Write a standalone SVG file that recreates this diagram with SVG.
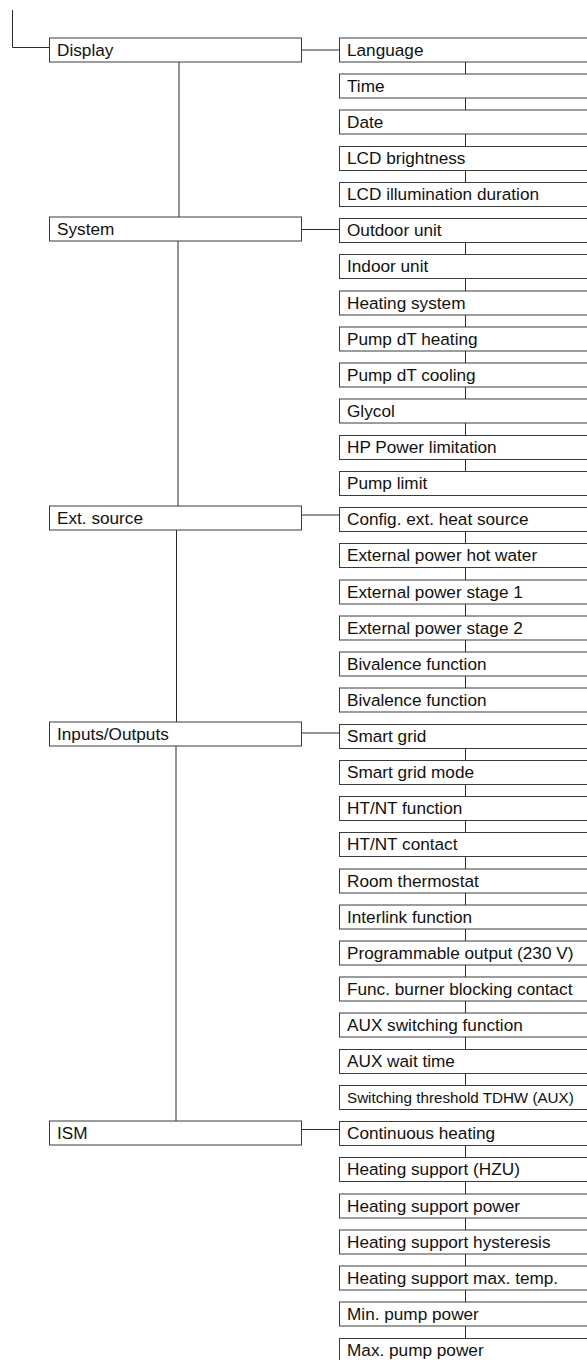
<svg xmlns="http://www.w3.org/2000/svg" width="587" height="1360" viewBox="0 0 587 1360">
  <style>
    .box { fill: #ffffff; stroke: #3a3a3a; stroke-width: 1; }
    .lbl { font-family: "Liberation Sans", Arial, sans-serif; font-size: 17.2px; fill: #111111; }
    .sm { font-size: 15.2px; }
    .wire { fill: none; stroke: #2a2a2a; stroke-width: 1; }
  </style>
  <rect width="587" height="1360" fill="#ffffff"/>

  <!-- connectors -->
  <g id="connectors" class="wire">
    <!-- root entry -->
    <path d="M12.5 10 V47.5 H49.5"/>
    <!-- main spine between category boxes -->
    <line x1="179" y1="62" x2="179" y2="217"/>
    <line x1="178" y1="241" x2="178" y2="506"/>
    <line x1="176.5" y1="530" x2="176.5" y2="722"/>
    <line x1="176" y1="746" x2="176" y2="1121"/>
    <!-- category to first parameter -->
    <line x1="301.5" y1="50" x2="339.5" y2="50"/>
    <line x1="301.5" y1="229.5" x2="339.5" y2="229.5"/>
    <line x1="301.5" y1="515" x2="339.5" y2="515"/>
    <line x1="301.5" y1="733" x2="339.5" y2="733"/>
    <line x1="301.5" y1="1129.5" x2="339.5" y2="1129.5"/>
    <!-- parameter chains -->
    <path d="M465.5 62 V74 M465.5 98 V110 M465.5 134 V146.5 M465.5 170.5 V182.5"/>
    <path d="M465.5 242.5 V254.5 M465.5 278.5 V291 M465.5 315 V327 M465.5 351 V363 M465.5 387 V399 M465.5 423 V435.5 M465.5 459.5 V471.5"/>
    <path d="M465.5 531.5 V543.5 M465.5 567.5 V580 M465.5 604 V616 M465.5 640 V652 M465.5 676 V688"/>
    <path d="M465.5 748.5 V760.5 M465.5 784.5 V796.5 M465.5 820.5 V832.5 M465.5 856.5 V869 M465.5 893 V905 M465.5 929 V941 M465.5 965 V977 M465.5 1001 V1013 M465.5 1037 V1049.5 M465.5 1073.5 V1085.5"/>
    <path d="M465.5 1145.5 V1157.5 M465.5 1181.5 V1194 M465.5 1218 V1230 M465.5 1254 V1266 M465.5 1290 V1302 M465.5 1326 V1338.5"/>
  </g>

  <!-- categories -->
  <g id="cat-display"><rect class="box" x="49.5" y="38" width="252" height="24"/><text class="lbl" x="57" y="55.5">Display</text></g>
  <g id="cat-system"><rect class="box" x="49.5" y="217" width="252" height="24"/><text class="lbl" x="57" y="234.5">System</text></g>
  <g id="cat-ext-source"><rect class="box" x="49.5" y="506" width="252" height="24"/><text class="lbl" x="57" y="523.5">Ext. source</text></g>
  <g id="cat-io"><rect class="box" x="49.5" y="722" width="252" height="24"/><text class="lbl" x="57" y="739.5">Inputs/Outputs</text></g>
  <g id="cat-ism"><rect class="box" x="49.5" y="1121" width="252" height="24"/><text class="lbl" x="57" y="1138.5">ISM</text></g>

  <!-- parameters -->
  <g id="p-language"><rect class="box" x="339.5" y="38" width="260" height="24"/><text class="lbl" x="347" y="55.5">Language</text></g>
  <g id="p-time"><rect class="box" x="339.5" y="74" width="260" height="24"/><text class="lbl" x="347" y="91.5">Time</text></g>
  <g id="p-date"><rect class="box" x="339.5" y="110" width="260" height="24"/><text class="lbl" x="347" y="127.5">Date</text></g>
  <g id="p-lcd-brightness"><rect class="box" x="339.5" y="146.5" width="260" height="24"/><text class="lbl" x="347" y="164">LCD brightness</text></g>
  <g id="p-lcd-duration"><rect class="box" x="339.5" y="182.5" width="260" height="24"/><text class="lbl" x="347" y="200">LCD illumination duration</text></g>

  <g id="p-outdoor"><rect class="box" x="339.5" y="218.5" width="260" height="24"/><text class="lbl" x="347" y="236">Outdoor unit</text></g>
  <g id="p-indoor"><rect class="box" x="339.5" y="254.5" width="260" height="24"/><text class="lbl" x="347" y="272">Indoor unit</text></g>
  <g id="p-heating-system"><rect class="box" x="339.5" y="291" width="260" height="24"/><text class="lbl" x="347" y="308.5">Heating system</text></g>
  <g id="p-pump-dt-heating"><rect class="box" x="339.5" y="327" width="260" height="24"/><text class="lbl" x="347" y="344.5">Pump dT heating</text></g>
  <g id="p-pump-dt-cooling"><rect class="box" x="339.5" y="363" width="260" height="24"/><text class="lbl" x="347" y="380.5">Pump dT cooling</text></g>
  <g id="p-glycol"><rect class="box" x="339.5" y="399" width="260" height="24"/><text class="lbl" x="347" y="416.5">Glycol</text></g>
  <g id="p-hp-power"><rect class="box" x="339.5" y="435.5" width="260" height="24"/><text class="lbl" x="347" y="453">HP Power limitation</text></g>
  <g id="p-pump-limit"><rect class="box" x="339.5" y="471.5" width="260" height="24"/><text class="lbl" x="347" y="489">Pump limit</text></g>

  <g id="p-config-ext"><rect class="box" x="339.5" y="507.5" width="260" height="24"/><text class="lbl" x="347" y="525">Config. ext. heat source</text></g>
  <g id="p-ext-hot-water"><rect class="box" x="339.5" y="543.5" width="260" height="24"/><text class="lbl" x="347" y="561">External power hot water</text></g>
  <g id="p-ext-stage1"><rect class="box" x="339.5" y="580" width="260" height="24"/><text class="lbl" x="347" y="597.5">External power stage 1</text></g>
  <g id="p-ext-stage2"><rect class="box" x="339.5" y="616" width="260" height="24"/><text class="lbl" x="347" y="633.5">External power stage 2</text></g>
  <g id="p-bivalence-1"><rect class="box" x="339.5" y="652" width="260" height="24"/><text class="lbl" x="347" y="669.5">Bivalence function</text></g>
  <g id="p-bivalence-2"><rect class="box" x="339.5" y="688" width="260" height="24"/><text class="lbl" x="347" y="705.5">Bivalence function</text></g>

  <g id="p-smart-grid"><rect class="box" x="339.5" y="724.5" width="260" height="24"/><text class="lbl" x="347" y="742">Smart grid</text></g>
  <g id="p-smart-grid-mode"><rect class="box" x="339.5" y="760.5" width="260" height="24"/><text class="lbl" x="347" y="778">Smart grid mode</text></g>
  <g id="p-htnt-function"><rect class="box" x="339.5" y="796.5" width="260" height="24"/><text class="lbl" x="347" y="814">HT/NT function</text></g>
  <g id="p-htnt-contact"><rect class="box" x="339.5" y="832.5" width="260" height="24"/><text class="lbl" x="347" y="850">HT/NT contact</text></g>
  <g id="p-room-thermostat"><rect class="box" x="339.5" y="869" width="260" height="24"/><text class="lbl" x="347" y="886.5">Room thermostat</text></g>
  <g id="p-interlink"><rect class="box" x="339.5" y="905" width="260" height="24"/><text class="lbl" x="347" y="922.5">Interlink function</text></g>
  <g id="p-prog-output"><rect class="box" x="339.5" y="941" width="260" height="24"/><text class="lbl" x="347" y="958.5">Programmable output (230 V)</text></g>
  <g id="p-burner-blocking"><rect class="box" x="339.5" y="977" width="260" height="24"/><text class="lbl" x="347" y="994.5">Func. burner blocking contact</text></g>
  <g id="p-aux-switching"><rect class="box" x="339.5" y="1013" width="260" height="24"/><text class="lbl" x="347" y="1030.5">AUX switching function</text></g>
  <g id="p-aux-wait"><rect class="box" x="339.5" y="1049.5" width="260" height="24"/><text class="lbl" x="347" y="1067">AUX wait time</text></g>
  <g id="p-tdhw-threshold"><rect class="box" x="339.5" y="1085.5" width="260" height="24"/><text class="lbl sm" x="347" y="1102.5">Switching threshold TDHW (AUX)</text></g>

  <g id="p-continuous"><rect class="box" x="339.5" y="1121.5" width="260" height="24"/><text class="lbl" x="347" y="1139">Continuous heating</text></g>
  <g id="p-hzu"><rect class="box" x="339.5" y="1157.5" width="260" height="24"/><text class="lbl" x="347" y="1175">Heating support (HZU)</text></g>
  <g id="p-hs-power"><rect class="box" x="339.5" y="1194" width="260" height="24"/><text class="lbl" x="347" y="1211.5">Heating support power</text></g>
  <g id="p-hs-hysteresis"><rect class="box" x="339.5" y="1230" width="260" height="24"/><text class="lbl" x="347" y="1247.5">Heating support hysteresis</text></g>
  <g id="p-hs-max-temp"><rect class="box" x="339.5" y="1266" width="260" height="24"/><text class="lbl" x="347" y="1283.5">Heating support max. temp.</text></g>
  <g id="p-min-pump"><rect class="box" x="339.5" y="1302" width="260" height="24"/><text class="lbl" x="347" y="1319.5">Min. pump power</text></g>
  <g id="p-max-pump"><rect class="box" x="339.5" y="1338.5" width="260" height="24"/><text class="lbl" x="347" y="1356">Max. pump power</text></g>
</svg>
